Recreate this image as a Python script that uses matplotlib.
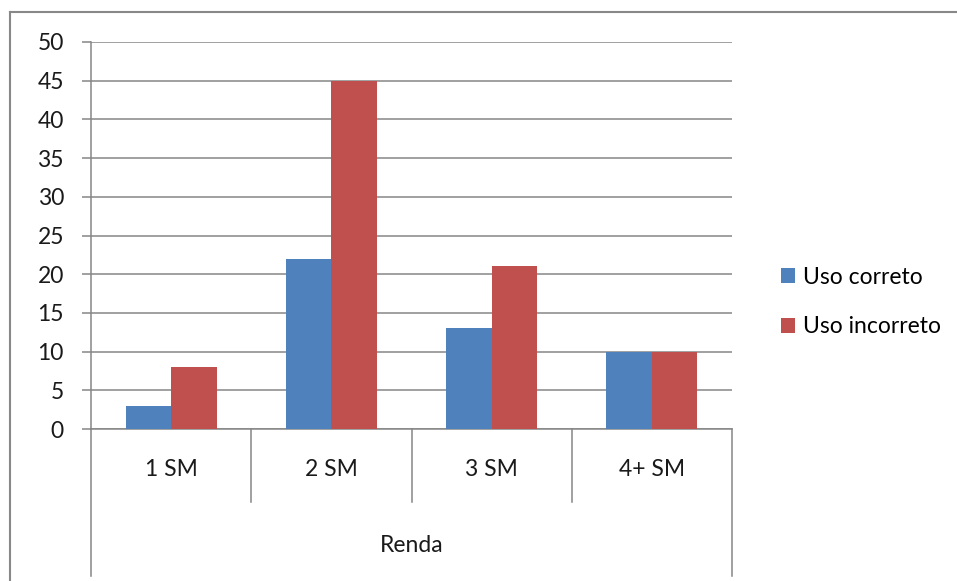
import matplotlib
matplotlib.use("Agg")
import matplotlib.pyplot as plt
import matplotlib.transforms as mtransforms
from matplotlib.lines import Line2D
import numpy as np

categories = ["1 SM", "2 SM", "3 SM", "4+ SM"]
uso_correto = [3, 22, 13, 10]
uso_incorreto = [8, 45, 21, 10]
series_names = ["Uso correto", "Uso incorreto"]
axis_group_label = "Renda"
y_ticks = list(range(0, 51, 5))

plt.rcParams["font.family"] = ["Lato", "DejaVu Sans"]
FS = 16.5
GRID = "#868686"
BLUE = "#4F81BD"
RED = "#C0504D"
TXT = "#1a1a1a"

W, H = 957, 581
fig = plt.figure(figsize=(W / 100, H / 100), dpi=100)
fig.patch.set_facecolor("white")

# plot area in pixel coordinates
left_px, right_px, top_px, bottom_px = 91, 732, 42, 429
ax = fig.add_axes([left_px / W, 1 - bottom_px / H,
                   (right_px - left_px) / W, (bottom_px - top_px) / H])

x = np.arange(len(categories))
bw = 0.284
ax.bar(x - bw / 2, uso_correto, bw, color=BLUE, label=series_names[0], zorder=3)
ax.bar(x + bw / 2, uso_incorreto, bw, color=RED, label=series_names[1], zorder=3)

ax.set_xlim(-0.5, len(categories) - 0.5)
ax.set_ylim(0, 50)
ax.set_yticks(y_ticks)
ax.yaxis.grid(True, color=GRID, linewidth=1.1, zorder=0)
ax.set_xticks([])
ax.tick_params(axis="y", length=6.5, width=1.1, color=GRID, pad=13,
               labelsize=FS, labelcolor=TXT)
for s in ["top", "right"]:
    ax.spines[s].set_visible(False)
for s in ["left", "bottom"]:
    ax.spines[s].set_color(GRID)
    ax.spines[s].set_linewidth(1.1)

# multi-level category axis below the plot
trans = mtransforms.blended_transform_factory(ax.transData, fig.transFigure)
y0 = 1 - bottom_px / H
y_inner = 1 - 502 / H
y_outer = 1 - 576 / H
edges = np.arange(-0.5, len(categories), 1.0)
for i, e in enumerate(edges):
    yb = y_outer if i in (0, len(edges) - 1) else y_inner
    fig.add_artist(Line2D([e, e], [y0, yb], transform=trans,
                          color=GRID, linewidth=1.1))
for i, c in enumerate(categories):
    fig.text(i, 1 - 470 / H, c, transform=trans, ha="center", va="center",
             fontsize=FS, color=TXT)
fig.text((left_px + right_px) / 2 / W, 1 - 546 / H, axis_group_label,
         ha="center", va="center", fontsize=FS, color=TXT)

# chart frame (left and top edges)
fig.add_artist(Line2D([10 / W, 10 / W], [1 - 12 / H, 0], transform=fig.transFigure,
                      color="#888888", linewidth=1.5))
fig.add_artist(Line2D([10 / W, 1], [1 - 12 / H, 1 - 12 / H], transform=fig.transFigure,
                      color="#888888", linewidth=1.5))

fig.legend(loc="center left", bbox_to_anchor=(772 / W, 1 - 302 / H),
           frameon=False, fontsize=FS, handlelength=0.6, handleheight=0.6,
           handletextpad=0.35, labelspacing=1.25, borderaxespad=0)

fig.savefig("out.png", dpi=100)
